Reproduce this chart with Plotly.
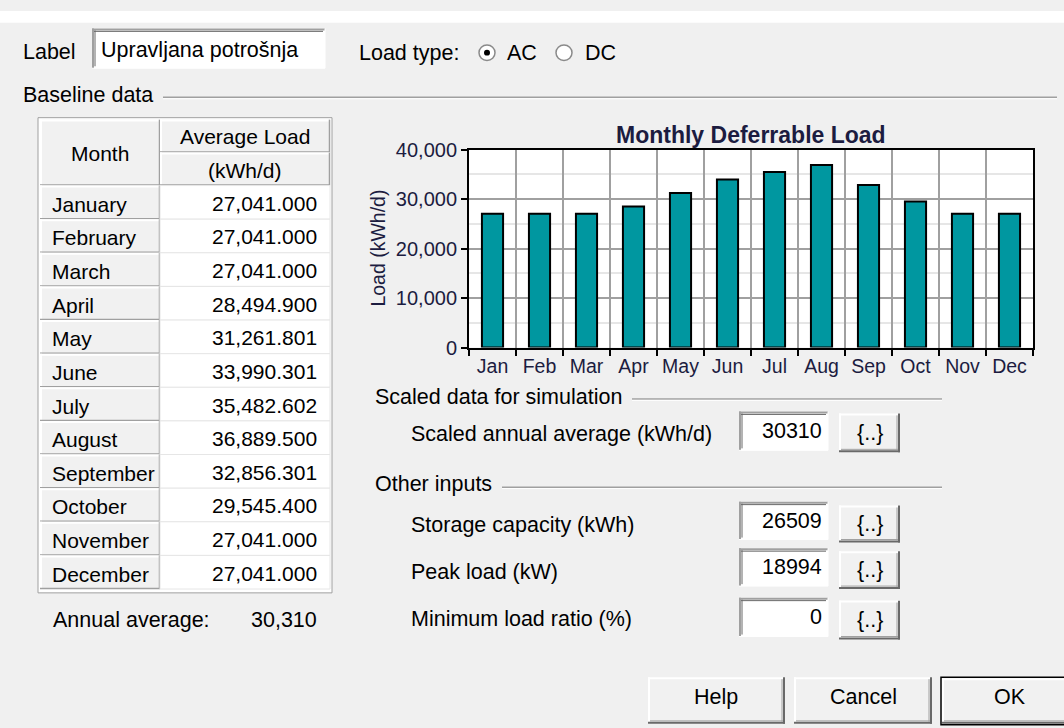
import plotly.graph_objects as go

# ---------------- data ----------------
months = ["January", "February", "March", "April", "May", "June", "July",
          "August", "September", "October", "November", "December"]
month_abbr = ["Jan", "Feb", "Mar", "Apr", "May", "Jun", "Jul", "Aug", "Sep", "Oct", "Nov", "Dec"]
avg_load = [27041.000, 27041.000, 27041.000, 28494.900, 31261.801, 33990.301,
            35482.602, 36889.500, 32856.301, 29545.400, 27041.000, 27041.000]
y_ticks = [0, 10000, 20000, 30000, 40000]
annual_average = 30310
scaled_annual_average = 30310
storage_capacity = 26509
peak_load = 18994
min_load_ratio = 0
label_text = "Upravljana potrošnja"

W, H = 1064, 728
FONT = "Liberation Sans, Arial, sans-serif"
FS = 21.5
FS_TABLE = 21
BG = "#f0f0f0"
DARK = "#a0a0a0"
DARKER = "#696969"
TXT_CHART = "#1c1c40"

shapes = []
annotations = []


def X(px):
    return px / W


def Y(py):
    return 1 - py / H


def rect(x0, y0, x1, y1, fill=None, line=None, lw=1):
    shapes.append(dict(type="rect", xref="paper", yref="paper",
                       x0=X(x0), x1=X(x1), y0=Y(y1), y1=Y(y0),
                       fillcolor=fill or "rgba(0,0,0,0)",
                       line=dict(color=line or "rgba(0,0,0,0)", width=lw if line else 0)))


def seg(x0, y0, x1, y1, color, lw=1):
    shapes.append(dict(type="line", xref="paper", yref="paper",
                       x0=X(x0), x1=X(x1), y0=Y(y0), y1=Y(y1),
                       line=dict(color=color, width=lw)))


def text(px, py, s, anchor="left", size=FS, color="#000000", angle=0):
    annotations.append(dict(x=X(px), y=Y(py), xref="paper", yref="paper",
                            text=s, showarrow=False, xanchor=anchor, yanchor="middle",
                            textangle=angle, borderpad=0,
                            font=dict(family=FONT, size=size, color=color)))


def sunken(x0, y0, x1, y1):
    rect(x0, y0, x1, y1, fill="#ffffff")
    seg(x0, y0 + 1, x1, y0 + 1, DARK, 2)
    seg(x0 + 1, y0, x0 + 1, y1, DARK, 2)
    seg(x0 + 2, y0 + 3, x1 - 2, y0 + 3, DARKER, 1)
    seg(x0 + 3, y0 + 2, x0 + 3, y1 - 2, DARKER, 1)
    seg(x0, y1, x1, y1, "#ffffff", 1)
    seg(x1, y0, x1, y1, "#ffffff", 1)


def raised(x0, y0, x1, y1, default=False, soft=False):
    rect(x0, y0, x1, y1, fill="#f1f1f1")
    seg(x0, y0 + 1, x1, y0 + 1, "#ffffff", 2)
    seg(x0 + 1, y0, x0 + 1, y1, "#ffffff", 2)
    if soft:
        seg(x0, y1 - 0.5, x1, y1 - 0.5, DARK, 1.5)
        seg(x1 - 0.5, y0, x1 - 0.5, y1, DARK, 1.5)
    else:
        seg(x0, y1 - 1, x1, y1 - 1, DARKER, 2)
        seg(x1 - 1, y0, x1 - 1, y1, DARKER, 2)
        seg(x0 + 2, y1 - 3, x1 - 2, y1 - 3, DARK, 1)
        seg(x1 - 3, y0 + 2, x1 - 3, y1 - 2, DARK, 1)
    if default:
        rect(x0 - 1, y0 - 1, x1 + 1, y1 + 1, line="#000000", lw=1.5)


def etched(x0, x1, y):
    seg(x0, y, x1, y, DARK, 1.5)
    seg(x0, y + 1.5, x1, y + 1.5, "#ffffff", 1)


# ---------------- dialog top ----------------
rect(0, 0, W, 12, fill="#ffffff")
text(22, 42, "Label")
sunken(92, 18, 325, 59)
text(100, 40, label_text)
text(358, 43, "Load type:")
shapes.append(dict(type="circle", xref="paper", yref="paper",
                   x0=X(479), x1=X(495), y0=Y(51), y1=Y(35),
                   fillcolor="#ffffff", line=dict(color="#8a8a8a", width=1.5)))
shapes.append(dict(type="circle", xref="paper", yref="paper",
                   x0=X(484), x1=X(490), y0=Y(46), y1=Y(40),
                   fillcolor="#000000", line=dict(color="#000000", width=0)))
text(506, 43, "AC")
shapes.append(dict(type="circle", xref="paper", yref="paper",
                   x0=X(556), x1=X(572), y0=Y(51), y1=Y(35),
                   fillcolor="#ffffff", line=dict(color="#8a8a8a", width=1.5)))
text(584, 43, "DC")

text(22, 87, "Baseline data")
etched(163, 1057, 89)

# ---------------- table ----------------
TX0, TX1, TXM = 38, 332, 160
rect(TX0, 110, TX1, 600, fill="#ffffff", line=DARK, lw=1)
raised(40, 112, TXM, 180, soft=True)
raised(TXM, 112, 330, 146, soft=True)
raised(TXM, 146, 330, 180, soft=True)
text(100, 147, "Month", anchor="center", size=FS_TABLE)
text(245, 129, "Average Load", anchor="center", size=FS_TABLE)
text(245, 164, "(kWh/d)", anchor="center", size=FS_TABLE)

row0, rh = 180, 34.67
for i, (m, v) in enumerate(zip(months, avg_load)):
    y0 = row0 + i * rh
    y1 = y0 + rh
    raised(40, y0, TXM, y1, soft=True)
    rect(TXM, y0, 330, y1, fill="#ffffff", line="#e6e6e6", lw=1)
    text(51, (y0 + y1) / 2 + 2, m, size=FS_TABLE)
    text(318, (y0 + y1) / 2 + 1, f"{v:,.3f}", anchor="right", size=FS_TABLE)

text(52, 628, "Annual average:")
text(318, 628, f"{annual_average:,}", anchor="right")

# ---------------- right-side inputs ----------------
text(374, 398, "Scaled data for simulation")
etched(632, 942, 400)
text(374, 488, "Other inputs")
etched(502, 942, 491)

fields = [
    (436, 413, 453, 415, 455, scaled_annual_average, "Scaled annual average (kWh/d)"),
    (530, 506, 545, 510, 548, storage_capacity, "Storage capacity (kWh)"),
    (578, 554, 593, 557, 596, peak_load, "Peak load (kW)"),
    (627, 605, 645, 608, 648, min_load_ratio, "Minimum load ratio (%)"),
]
for ly, by0, by1, bb0, bb1, val, lab in fields:
    text(410, ly, lab)
    sunken(739, by0, 828, by1)
    text(823, (by0 + by1) / 2, str(val), anchor="right")
    raised(839, bb0, 900, bb1)
    text(869.5, (bb0 + bb1) / 2, "{..}", anchor="center")

# ---------------- bottom buttons ----------------
raised(648, 687, 785, 735)
text(716, 707, "Help", anchor="center")
raised(794, 687, 932, 735)
text(863, 707, "Cancel", anchor="center")
raised(942, 688, 1070, 735, default=True)
text(1010, 707, "OK", anchor="center")

# ---------------- chart ----------------
PX0, PX1, PY0, PY1 = 469, 1033, 143, 347

fig = go.Figure()
fig.add_trace(go.Bar(
    x=month_abbr, y=avg_load,
    marker=dict(color="#0097a0", line=dict(color="#000000", width=2)),
    hoverinfo="x+y",
))

text((PX0 + PX1) / 2, 128, "<b>Monthly Deferrable Load</b>", anchor="center", size=23, color=TXT_CHART)
text(378, 245, "Load (kWh/d)", anchor="center", size=19.5, color=TXT_CHART, angle=-90)

fig.update_layout(
    width=W, height=H,
    margin=dict(l=0, r=0, t=0, b=0),
    paper_bgcolor=BG,
    plot_bgcolor="#ffffff",
    showlegend=False,
    bargap=0.55,
    shapes=shapes,
    annotations=annotations,
    font=dict(family=FONT, size=20, color=TXT_CHART),
    xaxis=dict(
        domain=[X(PX0), X(PX1)],
        type="category",
        tickson="boundaries",
        tickangle=0,
        showgrid=True, gridcolor="#a0a0a0", gridwidth=2,
        ticks="outside", ticklen=6, tickwidth=2, tickcolor="#000000",
        showline=True, linecolor="#000000", linewidth=2, mirror=True,
        tickfont=dict(family=FONT, size=19.5, color=TXT_CHART),
        fixedrange=True,
    ),
    yaxis=dict(
        domain=[Y(PY1), Y(PY0)],
        range=[0, 40000],
        tickvals=y_ticks,
        tickformat=",",
        showgrid=True, gridcolor="#a0a0a0", gridwidth=2,
        minor=dict(dtick=5000, showgrid=True, gridcolor="#e6e6e6", gridwidth=2),
        ticks="outside", ticklen=6, tickwidth=2, tickcolor="#000000",
        showline=True, linecolor="#000000", linewidth=2, mirror=True,
        zeroline=False,
        tickfont=dict(family=FONT, size=20, color=TXT_CHART),
        fixedrange=True,
    ),
)

fig.write_html("out.html", config={"displayModeBar": False},
               post_script="document.body.style.margin='0px';document.body.style.overflow='hidden';")
